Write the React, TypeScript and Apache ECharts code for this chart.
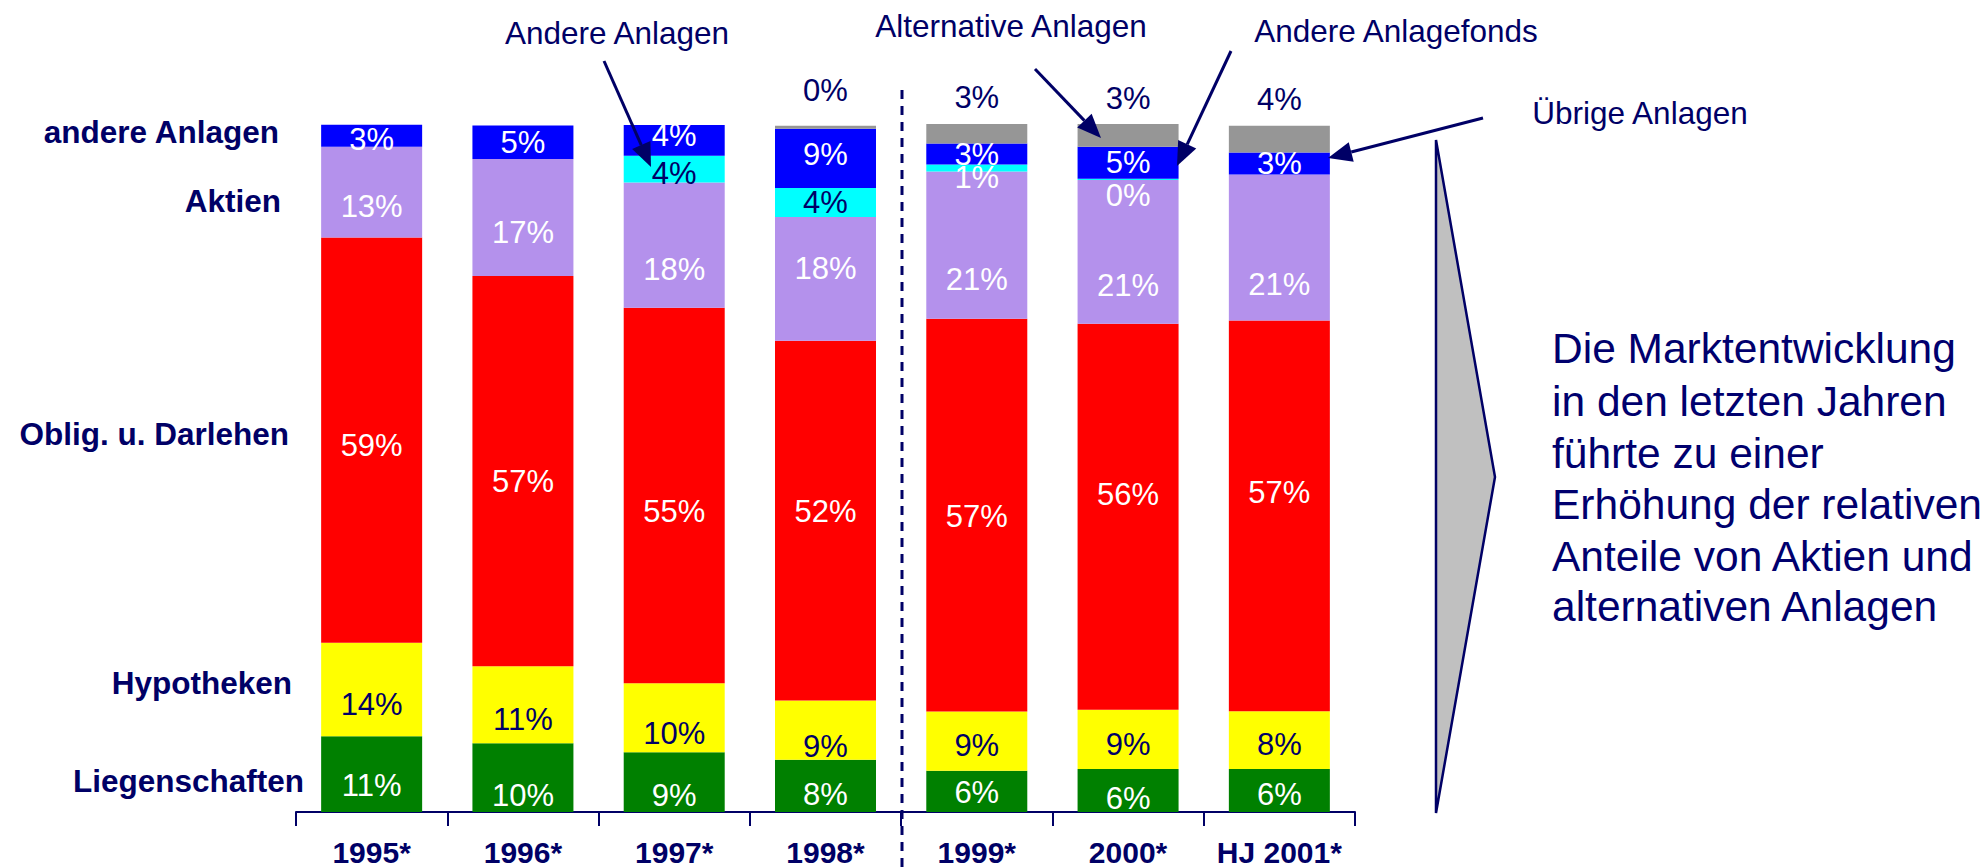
import React, { useEffect, useRef } from 'react';
import * as echarts from 'echarts';

const categories = ['1995*', '1996*', '1997*', '1998*', '1999*', '2000*', 'HJ 2001*'];
const liegenschaften = [11.0, 10.0, 8.7, 7.6, 6.0, 6.25, 6.25];
const hypotheken = [13.6, 11.2, 10.0, 8.6, 8.6, 8.6, 8.4];
const obligationen = [58.9, 56.7, 54.6, 52.3, 57.1, 56.1, 56.8];
const aktien = [13.2, 17.0, 18.2, 18.0, 21.4, 20.9, 21.2];
const andereAnlagen: (number | null)[] = [null, null, 3.9, 4.2, 1.0, 0.2, null];
const anlagefonds = [3.2, 4.9, 4.45, 8.6, 3.05, 4.65, 3.2];
const alternative: (number | null)[] = [null, null, null, 0.45, 2.9, 3.3, 3.9];

const rowLabels = ['andere Anlagen', 'Aktien', 'Oblig. u. Darlehen', 'Hypotheken', 'Liegenschaften'];
const calloutTexts = ['Andere Anlagen', 'Alternative Anlagen', 'Andere Anlagefonds', 'Übrige Anlagen'];
const conclusion = [
  'Die Marktentwicklung',
  'in den letzten Jahren',
  'führte zu einer',
  'Erhöhung der relativen',
  'Anteile von Aktien und',
  'alternativen Anlagen',
];

// layout: vertical nudges of the in-bar labels (px), as placed in the original slide
const offGreen = [11, 18, 13, 9, 1, 8, 4];
const offYellow = [15, 15, 16, 16, 4, 5, 4];
const offRed = [5, 10, 16, -9, 1, -22, -23];
const offLilac = [14, 15, 24, -10, 34, 34, 37];
const offCyan = [0, 0, 4, 0, 9, 16, 0];
const offBlue = [4, 0, -5, -4, 0, 0, 0];
const offGray = [0, 0, 0, -6, 3, 4, 3];

const NAVY = '#000066';
const FONT = "'Liberation Sans', Arial, sans-serif";

function arrow(x1: number, y1: number, x2: number, y2: number) {
  const dx = x2 - x1;
  const dy = y2 - y1;
  const L = Math.hypot(dx, dy);
  const ux = dx / L;
  const uy = dy / L;
  const hl = 24;
  const hw = 10;
  const bx = x2 - ux * hl;
  const by = y2 - uy * hl;
  return [
    { type: 'line', z: 100, shape: { x1, y1, x2: bx, y2: by }, style: { stroke: NAVY, lineWidth: 3 } },
    {
      type: 'polygon',
      z: 100,
      shape: { points: [[x2, y2], [bx - uy * hw, by + ux * hw], [bx + uy * hw, by - ux * hw]] },
      style: { fill: NAVY },
    },
  ];
}

const pct = (p: any) => Math.round(p.value) + '%';

function withOffsets(values: (number | null)[], offs: number[], extra?: (i: number) => any) {
  return values.map((v, i) =>
    v == null ? null : { value: v, label: { offset: [0, offs[i]], ...(extra ? extra(i) : {}) } }
  );
}

function barSeries(name: string, data: any[], color: string, labelColor: string, extra: any = {}) {
  return {
    type: 'bar',
    name,
    stack: 'total',
    data,
    barWidth: 101,
    itemStyle: { color },
    label: {
      show: true,
      position: 'inside',
      formatter: pct,
      color: labelColor,
      fontSize: 31,
      fontFamily: FONT,
      ...extra,
    },
  };
}

export default function App() {
  const ref = useRef<HTMLDivElement>(null);
  useEffect(() => {
    if (!ref.current) return;
    const chart = echarts.init(ref.current, undefined, { renderer: 'svg' });

    const rowPos = [
      [279, 132],
      [281, 201],
      [289, 434],
      [292, 683],
      [304, 781],
    ];
    const calloutPos = [
      [617, 33],
      [1011, 26],
      [1396, 31],
      [1640, 113],
    ];
    const conclY = [348, 401, 453, 504, 556, 606];

    const graphic: any[] = [
      ...rowLabels.map((t, i) => ({
        type: 'text',
        x: rowPos[i][0],
        y: rowPos[i][1],
        style: {
          text: t,
          fill: NAVY,
          font: `bold 31.5px ${FONT}`,
          align: 'right',
          verticalAlign: 'middle',
        },
      })),
      ...calloutTexts.map((t, i) => ({
        type: 'text',
        x: calloutPos[i][0],
        y: calloutPos[i][1],
        style: {
          text: t,
          fill: NAVY,
          font: `31.5px ${FONT}`,
          align: 'center',
          verticalAlign: 'middle',
        },
      })),
      ...conclusion.map((t, i) => ({
        type: 'text',
        x: 1552,
        y: conclY[i],
        style: {
          text: t,
          fill: '#00006e',
          font: `42.5px ${FONT}`,
          align: 'left',
          verticalAlign: 'middle',
        },
      })),
      {
        type: 'line',
        z: 50,
        shape: { x1: 902, y1: 90, x2: 902, y2: 867 },
        style: { stroke: NAVY, lineWidth: 3, lineDash: [9, 7] },
      },
      {
        type: 'polygon',
        shape: { points: [[1436, 140], [1495, 477], [1436, 813]] },
        style: { fill: '#c0c0c0', stroke: NAVY, lineWidth: 2.5 },
      },
      ...arrow(604, 61, 651, 167),
      ...arrow(1035, 69, 1101, 138),
      ...arrow(1231, 51, 1177, 166),
      ...arrow(1483, 118, 1328, 158),
    ];

    chart.setOption({
      animation: false,
      grid: { left: 296, right: 631, top: 124, bottom: 55, containLabel: false },
      xAxis: {
        type: 'category',
        data: categories,
        axisLine: { lineStyle: { color: NAVY, width: 2 } },
        axisTick: { show: true, length: 14, lineStyle: { color: NAVY, width: 2 } },
        axisLabel: {
          color: NAVY,
          fontSize: 30,
          fontWeight: 'bold',
          fontFamily: FONT,
          margin: 25,
          interval: 0,
        },
      },
      yAxis: { type: 'value', min: 0, max: 100, show: false, splitLine: { show: false } },
      series: [
        barSeries('Liegenschaften', withOffsets(liegenschaften, offGreen), '#008000', '#ffffff'),
        barSeries('Hypotheken', withOffsets(hypotheken, offYellow), '#ffff00', NAVY),
        barSeries('Oblig. u. Darlehen', withOffsets(obligationen, offRed), '#ff0000', '#ffffff'),
        barSeries('Aktien', withOffsets(aktien, offLilac), '#b491ec', '#ffffff'),
        barSeries(
          'Andere Anlagen',
          withOffsets(andereAnlagen, offCyan, (i) => (i >= 4 ? { color: '#ffffff' } : {})),
          '#00ffff',
          NAVY
        ),
        barSeries('Andere Anlagefonds', withOffsets(anlagefonds, offBlue), '#0000ff', '#ffffff'),
        barSeries('Alternative Anlagen', withOffsets(alternative, offGray), '#969696', NAVY, {
          position: 'top',
          distance: 14,
        }),
      ],
      graphic,
    });
    return () => chart.dispose();
  }, []);
  return (
    <div
      ref={ref}
      style={{ position: 'fixed', left: 0, top: 0, width: 1986, height: 867, background: '#ffffff' }}
    />
  );
}
